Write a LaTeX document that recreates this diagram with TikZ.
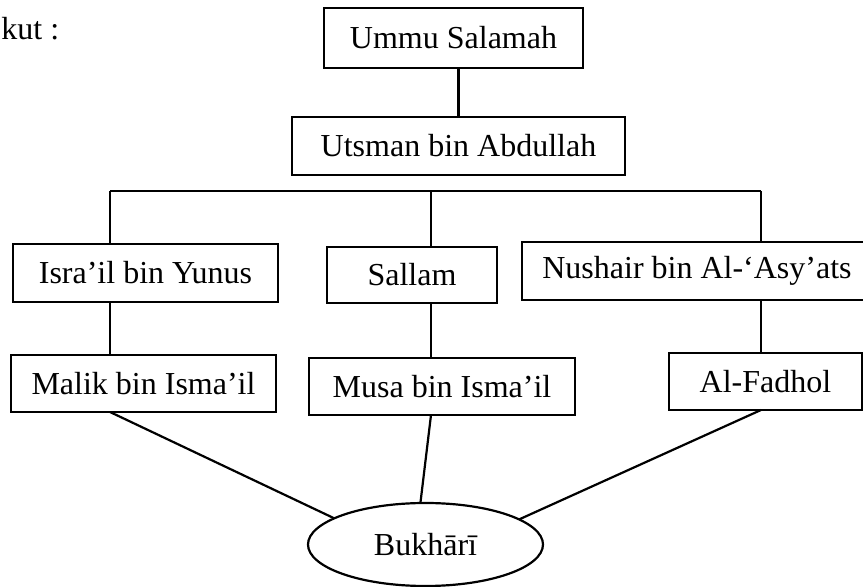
\documentclass[tikz,border=0pt]{standalone}
\usepackage{fontspec}
\setmainfont{Liberation Serif}
\usetikzlibrary{shapes.geometric}
\begin{document}
\begin{tikzpicture}[x=0.5pt,y=-0.5pt,
  every node/.style={font=\fontsize{16}{19}\selectfont},
  box/.style={draw,line width=1.1pt,rectangle,inner sep=0pt,outer sep=0pt},
  conn/.style={line width=1.1pt}]
\clip (0,0) rectangle (863,587);
\node[anchor=base west,inner sep=0pt] (kut) at (1,40) {kut :};
\node[box,minimum width=129.5pt,minimum height=30pt] (ummu) at (453.5,38) {Ummu Salamah};
\node[box,minimum width=166.5pt,minimum height=29pt] (utsman) at (458.5,146) {Utsman bin Abdullah};
\node[box,minimum width=132.5pt,minimum height=29pt] (isra) at (145.5,273) {Isra’il bin Yunus};
\node[box,minimum width=85pt,minimum height=28pt] (sallam) at (412,275) {Sallam};
\node[box,minimum width=175pt,minimum height=29pt] (nushair) at (697,271) {Nushair bin Al-‘Asy’ats};
\node[box,minimum width=132.5pt,minimum height=28.5pt] (malik) at (143.5,383.5) {Malik bin Isma’il};
\node[box,minimum width=133pt,minimum height=28.5pt] (musa) at (442,386.5) {Musa bin Isma’il};
\node[box,minimum width=96.5pt,minimum height=28.5pt] (fadhol) at (765.5,381.5) {Al-Fadhol};
\node[draw,ellipse,line width=1.1pt,inner sep=0pt,outer sep=0pt,minimum width=117.5pt,minimum height=41.5pt] (bukhari) at (425.5,544.5) {Bukhārī};
\coordinate (bl) at (110,191);
\coordinate (bm) at (431,191);
\coordinate (br) at (761,191);
\draw[conn] (bl) -- (br);
\draw[conn] (utsman.north |- ummu.south) -- (utsman.north);
\draw[conn] (bl) -- (bl |- isra.north);
\draw[conn] (bm) -- (bm |- sallam.north);
\draw[conn] (br) -- (br |- nushair.north);
\draw[conn] (bl |- isra.south) -- (bl |- malik.north);
\draw[conn] (bm |- sallam.south) -- (bm |- musa.north);
\draw[conn] (br |- nushair.south) -- (br |- fadhol.north);
\draw[conn] (bl |- malik.south) -- (bukhari.164.4);
\draw[conn] (bm |- musa.south) -- (bukhari.97.5);
\draw[conn] (br |- fadhol.south) -- (bukhari.15.3);
\end{tikzpicture}
\end{document}
